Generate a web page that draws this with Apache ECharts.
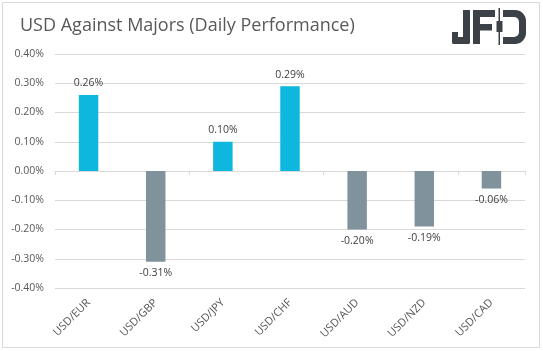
<!DOCTYPE html>
<html><head><meta charset="utf-8">
<script src="https://cdn.jsdelivr.net/npm/echarts@6/dist/echarts.min.js"></script>
<style>html,body{margin:0;padding:0;background:#fff}#c{width:543px;height:351px}</style>
</head><body><div id="c"></div>
<script>
const categories = ['USD/EUR','USD/GBP','USD/JPY','USD/CHF','USD/AUD','USD/NZD','USD/CAD'];
const values = [0.26, -0.31, 0.10, 0.29, -0.20, -0.19, -0.06];
const yTicks = [-0.4, 0.4, 0.1];
const titleText = 'USD Against Majors (Daily Performance)';

const POS = '#0db7de', NEG = '#80939d', LOGO = '#3c4147';
const chart = echarts.init(document.getElementById('c'), null, {renderer: 'canvas'});
const fmt = v => v.toFixed(2) + '%';
chart.setOption({
  animation: false,
  title: {text: titleText, left: 15, top: 12, textStyle: {fontFamily: 'Open Sans', fontSize: 18, fontWeight: 'normal', color: '#595959'}},
  graphic: [
    {type: 'rect', shape: {x: 2.5, y: 2.5, width: 537, height: 345}, style: {fill: 'none', stroke: '#d9d9d9', lineWidth: 1}, z: -1},
    // JFD logo
    {type: 'group', children: [
      {type: 'rect', shape: {x: 463, y: 10, width: 7, height: 34, r: [0, 0, 2, 0]}, style: {fill: LOGO}},
      {type: 'rect', shape: {x: 452, y: 37, width: 18, height: 7, r: [0, 0, 2, 2]}, style: {fill: LOGO}},
      {type: 'rect', shape: {x: 452, y: 32, width: 6, height: 12, r: [0, 0, 0, 2]}, style: {fill: LOGO}},
      {type: 'rect', shape: {x: 473, y: 10, width: 7, height: 34}, style: {fill: LOGO}},
      {type: 'rect', shape: {x: 473, y: 10, width: 22, height: 7}, style: {fill: LOGO}},
      {type: 'rect', shape: {x: 473, y: 24, width: 19, height: 6.5}, style: {fill: LOGO}},
      {type: 'rect', shape: {x: 498.5, y: 8, width: 1.5, height: 37}, style: {fill: LOGO}},
      {type: 'rect', shape: {x: 496.5, y: 21, width: 6, height: 11}, style: {fill: LOGO}},
      {type: 'rect', shape: {x: 503, y: 10, width: 23, height: 34, r: [0, 11, 11, 0]}, style: {fill: LOGO}},
      {type: 'rect', shape: {x: 503, y: 17, width: 16, height: 20, r: [0, 5, 5, 0]}, style: {fill: '#ffffff'}}
    ]}
  ],
  grid: {left: 55, right: 18, top: 54, bottom: 63},
  xAxis: [
    {type: 'category', data: categories, position: 'bottom',
     axisLine: {show: false, onZero: false}, axisTick: {show: false},
     axisLabel: {rotate: 45, margin: 13, fontFamily: 'Open Sans', fontSize: 11, color: '#595959'}},
    {type: 'category', data: categories, position: 'bottom',
     axisLine: {show: true, onZero: true, lineStyle: {color: '#d9d9d9'}},
     axisTick: {show: true, length: 4, lineStyle: {color: '#d9d9d9'}},
     axisLabel: {show: false}}
  ],
  yAxis: {type: 'value', min: yTicks[0], max: yTicks[1], interval: yTicks[2],
    axisLine: {show: false}, axisTick: {show: false},
    splitLine: {lineStyle: {color: '#d9d9d9'}},
    axisLabel: {formatter: fmt, margin: 11, fontFamily: 'Open Sans', fontSize: 10.5, color: '#595959'}},
  series: [{
    type: 'bar', barWidth: '29%', xAxisIndex: 0,
    data: values.map(v => ({value: v, itemStyle: {color: v >= 0 ? POS : NEG},
      label: {position: v >= 0 ? 'top' : 'bottom'}})),
    label: {show: true, formatter: p => fmt(p.value), fontFamily: 'Open Sans', fontSize: 10.5, color: '#404040', distance: 6}
  }]
});
</script></body></html>
